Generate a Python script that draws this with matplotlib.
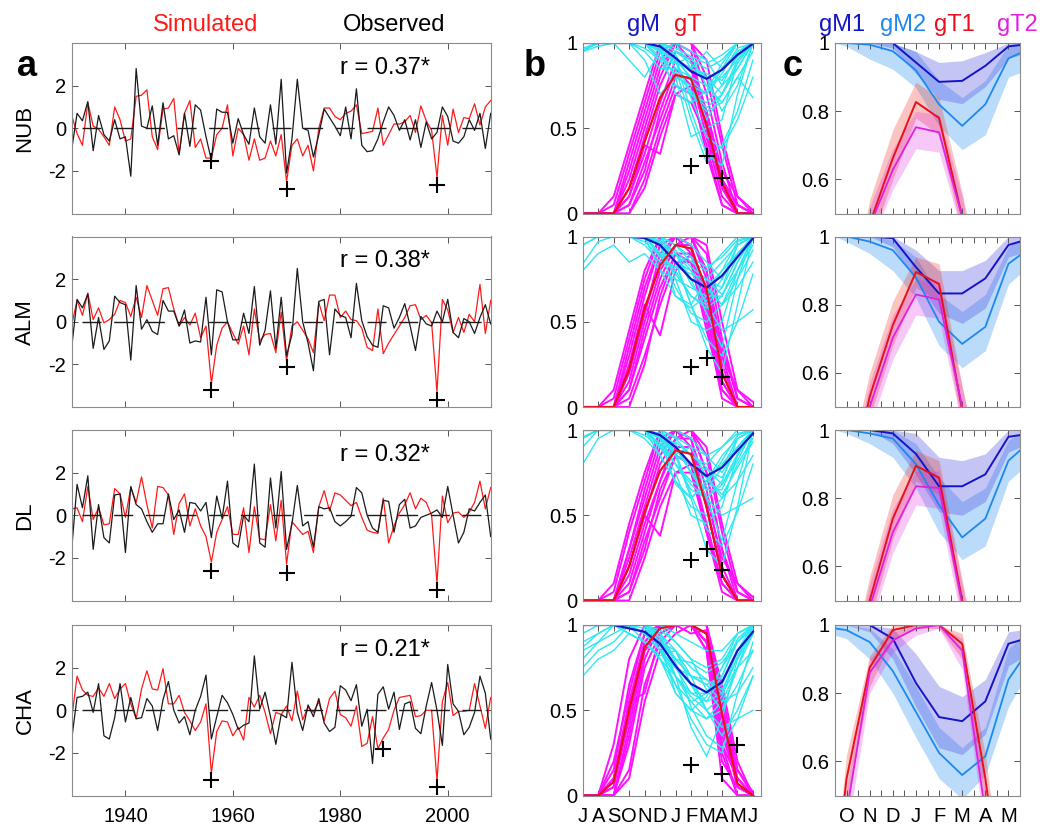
import numpy as np
import matplotlib.pyplot as plt

plt.rcParams['font.family'] = ['Liberation Sans', 'DejaVu Sans']
plt.rcParams['axes.unicode_minus'] = False

# ---------------- column a: yearly anomalies ----------------
years = np.arange(1930, 2009)
stations = ['NUB', 'ALM', 'DL', 'CHA']
r_labels = ['r = 0.37*', 'r = 0.38*', 'r = 0.32*', 'r = 0.21*']

sim_NUB = [0.6, -0.25, -0.8, 1.2, 0.1, -0.05, -0.4, -0.8, 1.0, 0.4,
           -0.6, -0.5, 1.5, 1.55, 1.8, -0.4, -1.0, 0.9, 0.95, 1.4,
           -1.2, 0.7, 1.3, -0.9, -0.5, -1.4, -1.4, -0.3, 0.0, 1.1,
           -1.3, 0.0, -0.3, -1.5, -0.5, -1.5, -1.4, -0.6, -1.3, -0.3,
           -2.5, -0.8, -0.5, -1.3, -0.8, -2.0, 0.0, 0.95, 0.95, 0.55,
           0.4, 0.7, 0.8, 1.1, -0.25, -0.2, -0.15, 0.95, -0.8, -0.3,
           0.2, 0.2, 0.3, 0.6, -0.2, 1.05, 0.35, -0.1, -2.3, 0.6,
           -0.8, 0.9, -0.2, 0.5, 0.45, 1.15, 0.15, 1.0, 1.3]
obs_NUB = [-1.0, 0.7, 0.35, 1.25, -1.05, 0.6, -0.3, -0.6, 0.4, -0.5,
           -0.4, -2.25, 2.8, 0.1, 0.0, 1.05, -0.8, 1.2, -0.5, -0.35,
           -1.25, 0.7, -0.85, 1.1, 0.85, -0.4, -1.5, 0.9, 0.75, 0.75,
           -0.7, 0.45, -0.3, -0.75, 0.95, -0.4, -0.7, 1.1, -0.75, 2.3,
           -2.1, -0.5, 2.3, 0.0, -0.1, -1.35, -0.3, 0.9, 0.5, 0.1,
           -0.35, 1.0, -0.5, 1.85, -0.8, -1.1, -1.05, -0.5, 0.3, 1.0,
           0.6, -0.1, 0.4, -0.55, 0.4, -0.9, 0.3, -0.5, -0.2, 1.0,
           0.55, -0.6, -0.7, -0.4, 0.4, -0.1, 0.7, -0.95, 0.7]

sim_ALM = [-0.15, 1.0, 0.3, 1.35, 0.1, 0.65, -0.05, 0.1, 0.35, 1.0,
           0.9, 0.25, 1.15, 0.2, 1.7, 1.0, 0.3, 1.55, 1.6, 0.6,
           -0.2, 0.2, -0.15, 0.4, -0.75, -0.2, -2.9, -1.1, -0.3, 0.0,
           -0.55, -1.05, -0.2, -1.55, 0.6, -0.9, -0.6, -0.55, -1.45, 0.45,
           -1.85, -0.2, 0.0, -0.4, -0.8, -1.45, 0.9, 0.05, 1.25, 1.25,
           0.2, 0.5, 0.1, 0.05, -0.3, -1.2, -1.35, 0.6, -1.5, -1.0,
           -0.6, -0.2, 0.2, 0.75, 0.8, 0.1, 0.3, -0.05, -3.3, 1.05,
           0.55, -0.5, 0.2, -0.5, 0.35, 0.0, 1.75, -0.55, 1.0]
obs_ALM = [-1.2, 1.05, 0.65, 1.3, -1.25, 0.2, -1.3, -0.9, 1.2, 0.9,
           0.8, -1.8, 1.7, -0.35, 0.1, -0.45, -0.6, 1.0, 0.5, 0.5,
           -0.2, 0.55, -1.0, -0.9, -0.95, 1.15, -1.55, 1.5, 1.4, 0.0,
           -0.85, -0.85, 0.4, -0.55, 1.65, -1.1, -0.4, 1.45, -1.25, 1.15,
           -1.6, -0.6, 2.5, 0.0, -1.0, -2.3, 0.95, 1.05, -1.55, 0.6,
           0.3, 0.2, -0.75, 1.8, 0.05, -0.7, -1.1, -1.2, 0.75, 0.65,
           -0.3, 0.2, 0.85, -0.2, -1.35, 0.25, -0.1, -0.2, 0.5, 0.0,
           1.05, -0.5, -0.75, 0.15, 0.0, -0.55, 0.2, 0.8, -0.1]

sim_DL = [0.3, 0.35, -0.3, 1.35, -0.2, 0.35, -0.45, -0.4, 1.25, 1.0,
          -0.1, 1.3, 0.6, 1.8, 0.5, -0.6, 1.35, 1.3, 0.95, -0.9,
          0.55, 1.0, -0.5, 0.3, -0.5, -1.0, -2.2, -0.8, -0.2, 0.4,
          -0.9, -0.9, 0.35, -1.75, 0.4, -1.1, -1.15, 0.5, -1.2, 0.7,
          -2.3, -0.3, -0.6, -0.9, -0.75, -1.75, 0.4, 1.15, 0.2, 1.05,
          0.95, 0.7, 0.45, 0.6, -0.1, -0.7, -0.8, -0.85, 0.8, -1.3,
          -0.5, 0.1, 0.5, 1.05, 0.3, 0.8, 0.6, 0.0, -3.2, 0.9,
          -0.35, 0.1, 0.15, -0.1, 0.15, 0.6, 1.6, 0.3, 1.3]
obs_DL = [-1.6, 1.45, 0.35, 1.85, -1.6, 0.5, -1.05, -1.3, 0.95, 1.0,
          -1.75, 1.35, 0.5, 0.3, -0.3, -0.8, -0.4, -0.4, 1.0, -0.2,
          0.25, -0.8, 0.6, 0.55, 0.2, 0.6, -1.05, 0.9, -0.15, 1.6,
          -1.3, -1.5, 0.0, -0.3, 2.4, -1.3, -1.5, 1.75, -0.6, 2.05,
          -1.6, -0.4, 1.4, -0.5, -0.3, -1.5, 0.4, 0.3, 0.35, -0.3,
          -0.5, -0.3, -0.05, 1.3, 1.05, 0.0, -0.6, -0.8, 0.7, 0.65,
          -0.8, 0.5, 0.75, -0.6, -0.5, -0.1, 0.0, 0.1, 0.25, -0.1,
          1.35, 0.0, -1.3, -0.8, 0.3, 0.2, 0.6, 0.95, -1.0]

sim_CHA = [-0.4, 1.6, 0.95, 0.7, 0.65, 1.05, 0.65, 1.25, 0.55, 1.0,
           1.25, 0.3, -0.4, 1.0, 1.85, 1.0, 0.95, 1.95, 0.3, 0.3,
           0.7, -0.1, -0.5, -0.95, -0.55, 0.3, -2.95, -1.0, -0.5, -0.55,
           -1.2, -0.8, -1.4, 0.6, 0.15, 0.7, -0.1, -1.1, -0.1, -0.2,
           0.2, -0.5, 0.9, -0.45, 0.15, -0.1, 0.4, -0.5, 0.55, 0.9,
           -0.2, -0.35, -0.75, 0.2, -1.7, -1.55, -0.3, -1.8, -1.3, -0.9,
           0.0, 0.6, 0.65, 0.7, -0.3, -0.25, 0.0, 0.0, -3.3, 0.4,
           1.3, -0.25, -0.05, -0.05, 0.0, 1.25, 0.2, -0.85, 0.6]
obs_CHA = [-1.35, 0.6, 0.65, 0.85, -0.1, 1.25, -1.2, -1.35, -0.35, 1.25,
           -0.55, 0.6, -0.4, -0.35, 0.55, 0.2, -0.95, 0.5, 1.35, 0.0,
           -0.6, -0.3, -1.15, 0.0, 0.65, 1.65, -1.35, -0.3, 0.7, 0.35,
           -0.2, -0.9, -0.7, -0.6, 2.55, 0.05, 0.85, -0.3, -1.6, -0.2,
           -0.35, 2.25, -0.1, -0.95, 0.25, -0.3, 0.55, -0.6, -1.0, -0.8,
           1.15, 0.95, 0.45, 1.2, -0.75, 0.05, -2.5, 0.75, 1.1, 0.05,
           0.85, -0.9, 0.3, 0.4, -0.85, -1.1, 0.2, 1.3, 0.0, -1.65,
           2.15, 0.3, -0.05, -1.15, -0.8, -0.1, 1.6, 0.8, -1.35]

simulated = [sim_NUB, sim_ALM, sim_DL, sim_CHA]
observed = [obs_NUB, obs_ALM, obs_DL, obs_CHA]

# marked dry years
dry_years = [[1956, 1970, 1998], [1956, 1970, 1998],
             [1956, 1970, 1998], [1956, 1988, 1998]]
dry_vals = [[-1.55, -2.85, -2.65], [-3.2, -2.1, -3.65],
            [-2.6, -2.7, -3.5], [-3.25, -1.8, -3.6]]

# ---------------- column b: monthly members ----------------
months_b = ['J', 'A', 'S', 'O', 'N', 'D', 'J', 'F', 'M', 'A', 'M', 'J']

gM_mean = [[1, 1, 1, 1, 1, 0.98, 0.912, 0.833, 0.79, 0.843, 0.931, 0.996],
           [1, 1, 1, 1, 0.99, 0.95, 0.85, 0.75, 0.7, 0.77, 0.88, 0.99],
           [1, 1, 1, 1, 1, 0.97, 0.9, 0.8, 0.73, 0.78, 0.88, 0.98],
           [1, 1, 1, 0.98, 0.96, 0.89, 0.76, 0.655, 0.605, 0.665, 0.85, 0.96]]
gT_mean = [[0, 0, 0, 0.147, 0.42, 0.68, 0.814, 0.79, 0.52, 0.18, 0, 0],
           [0, 0, 0, 0.22, 0.58, 0.83, 0.95, 0.93, 0.69, 0.2, 0, 0],
           [0, 0, 0, 0.2, 0.52, 0.76, 0.88, 0.86, 0.55, 0.15, 0, 0],
           [0, 0, 0.08, 0.5, 0.87, 0.98, 1, 1, 0.95, 0.48, 0.07, 0]]

gM_members_NUB = [
    [1, 1, 1, 1, 1, 1, 0.9, 0.6, 0.35, 0.28, 0.7, 1],
    [0.95, 1, 1, 1, 1, 0.95, 0.8, 0.45, 0.5, 0.55, 0.9, 1],
    [1, 1, 1, 1, 1, 0.9, 0.75, 0.7, 0.65, 0.75, 0.95, 1],
    [1, 1, 1, 1, 0.95, 0.85, 0.85, 0.8, 0.75, 0.8, 0.9, 1],
    [1, 1, 1, 1, 1, 1, 0.95, 0.9, 0.85, 0.9, 1, 1],
    [1, 1, 1, 1, 1, 1, 1, 0.95, 0.9, 0.75, 0.85, 1],
    [0.97, 1, 1, 0.9, 0.8, 0.95, 0.9, 0.7, 0.6, 0.65, 0.8, 0.68],
    [1, 1, 1, 1, 1, 1, 0.9, 0.8, 0.55, 0.7, 0.9, 1],
    [1, 1, 1, 1, 1, 0.95, 1, 0.85, 0.95, 0.85, 0.95, 1],
    [1, 1, 1, 1, 1, 1, 0.85, 0.55, 0.3, 0.4, 0.6, 0.9],
    [0.95, 0.98, 1, 1, 1, 0.95, 0.9, 0.85, 0.8, 0.6, 0.75, 1],
    [1, 1, 1, 1, 0.9, 0.7, 0.8, 0.75, 0.7, 0.85, 1, 1],
    [1, 1, 1, 1, 1, 0.92, 0.82, 0.72, 0.62, 0.7, 0.88, 1],
    [1, 1, 1, 1, 0.97, 0.9, 0.88, 0.85, 0.82, 0.78, 0.92, 1],
    [1, 1, 1, 1, 1, 0.98, 0.93, 0.78, 0.7, 0.82, 0.97, 1],
    [1, 1, 1, 1, 1, 0.96, 0.7, 0.65, 0.72, 0.88, 1, 1],
    [1, 1, 1, 1, 1, 1, 0.97, 0.92, 0.75, 0.65, 0.8, 0.95],
    [1, 1, 1, 1, 1, 0.9, 0.95, 0.88, 0.8, 0.7, 0.85, 1],
    [1, 1, 1, 1, 1, 1, 0.9, 0.68, 0.45, 0.38, 0.55, 0.8],
    [0.96, 1, 1, 1, 1, 0.97, 0.88, 0.92, 0.88, 0.93, 1, 1]]
gT_members_NUB = [
    [0, 0, 0.05, 0.35, 0.65, 0.95, 1, 1, 0.8, 0.4, 0.05, 0],
    [0, 0, 0, 0.25, 0.55, 0.85, 1, 1, 0.7, 0.3, 0, 0],
    [0, 0, 0, 0.15, 0.45, 0.75, 0.95, 0.9, 0.6, 0.2, 0, 0],
    [0, 0, 0, 0.1, 0.35, 0.65, 0.9, 0.85, 0.5, 0.15, 0, 0],
    [0, 0, 0, 0.05, 0.3, 0.55, 0.8, 0.8, 0.45, 0.1, 0, 0],
    [0, 0, 0, 0, 0.2, 0.5, 0.75, 0.7, 0.4, 0.05, 0, 0],
    [0, 0, 0, 0.2, 0.5, 0.8, 1, 0.95, 0.55, 0.2, 0.05, 0],
    [0, 0, 0, 0.1, 0.4, 0.35, 0.7, 0.75, 0.6, 0.25, 0.1, 0],
    [0, 0, 0.1, 0.4, 0.7, 1, 1, 1, 0.9, 0.45, 0.1, 0.02],
    [0, 0, 0, 0.05, 0.25, 0.6, 0.85, 0.75, 0.35, 0.05, 0, 0],
    [0, 0, 0, 0.3, 0.6, 0.9, 1, 0.9, 0.5, 0.15, 0, 0],
    [0, 0, 0, 0, 0.15, 0.45, 0.7, 0.65, 0.45, 0.2, 0.05, 0]]

gM_members_ALM = [
    [0.84, 0.97, 1, 1, 1, 1, 0.85, 0.6, 0.35, 0.2, 0.6, 1],
    [0.8, 0.9, 0.95, 0.85, 0.9, 0.8, 0.75, 0.5, 0.45, 0.5, 0.8, 1],
    [1, 1, 1, 1, 1, 0.9, 0.8, 0.65, 0.6, 0.7, 0.95, 1],
    [1, 1, 1, 1, 1, 0.95, 0.85, 0.75, 0.7, 0.8, 0.9, 1],
    [1, 1, 1, 1, 1, 1, 0.95, 0.85, 0.8, 0.9, 1, 1],
    [1, 1, 1, 1, 1, 0.9, 0.7, 0.55, 0.5, 0.6, 0.8, 0.95],
    [1, 1, 1, 1, 0.95, 0.85, 0.9, 0.8, 0.6, 0.45, 0.5, 0.57],
    [1, 1, 1, 1, 1, 1, 0.9, 0.75, 0.55, 0.35, 0.75, 1],
    [1, 1, 1, 1, 1, 1, 1, 0.95, 0.85, 0.75, 0.9, 1],
    [0.95, 1, 1, 1, 1, 0.95, 0.75, 0.7, 0.65, 0.65, 0.85, 1],
    [1, 1, 1, 1, 1, 0.8, 0.65, 0.6, 0.75, 0.85, 0.95, 1],
    [1, 1, 1, 1, 1, 0.95, 0.85, 0.8, 0.7, 0.6, 0.7, 0.85],
    [1, 1, 1, 1, 1, 0.9, 0.78, 0.65, 0.58, 0.65, 0.85, 1],
    [1, 1, 1, 1, 0.97, 0.88, 0.82, 0.78, 0.75, 0.7, 0.88, 1],
    [1, 1, 1, 1, 1, 0.97, 0.9, 0.72, 0.62, 0.75, 0.95, 1],
    [1, 1, 1, 1, 1, 0.95, 0.65, 0.58, 0.65, 0.8, 0.97, 1],
    [1, 1, 1, 1, 1, 1, 0.95, 0.88, 0.7, 0.6, 0.75, 0.92],
    [1, 1, 1, 1, 1, 0.88, 0.92, 0.82, 0.75, 0.66, 0.8, 1],
    [1, 1, 1, 1, 1, 0.98, 0.85, 0.6, 0.4, 0.3, 0.5, 0.78],
    [0.95, 1, 1, 1, 1, 0.96, 0.85, 0.88, 0.82, 0.88, 0.98, 1]]
gT_members_ALM = [
    [0, 0, 0.05, 0.4, 0.75, 1, 1, 1, 0.9, 0.4, 0.05, 0],
    [0, 0, 0, 0.3, 0.65, 0.95, 1, 1, 0.8, 0.3, 0, 0],
    [0, 0, 0, 0.2, 0.55, 0.85, 1, 1, 0.75, 0.25, 0, 0],
    [0, 0, 0, 0.15, 0.5, 0.8, 0.95, 0.95, 0.65, 0.15, 0, 0],
    [0, 0, 0, 0.1, 0.4, 0.7, 0.9, 0.9, 0.55, 0.1, 0, 0],
    [0, 0, 0, 0.05, 0.3, 0.6, 0.85, 0.85, 0.5, 0.05, 0, 0],
    [0, 0, 0, 0.25, 0.6, 0.42, 0.8, 0.9, 0.7, 0.3, 0.1, 0],
    [0, 0, 0.1, 0.45, 0.8, 1, 1, 1, 0.95, 0.5, 0.1, 0.03],
    [0, 0, 0, 0.2, 0.55, 0.9, 1, 0.95, 0.6, 0.2, 0, 0],
    [0, 0, 0, 0.1, 0.45, 0.75, 0.95, 1, 0.8, 0.35, 0.05, 0],
    [0, 0, 0, 0, 0.25, 0.65, 0.9, 0.85, 0.45, 0.1, 0, 0],
    [0, 0, 0, 0.35, 0.7, 0.95, 1, 0.9, 0.6, 0.15, 0, 0]]

gM_members_DL = [
    [0.8, 0.95, 1, 1, 1, 1, 0.85, 0.6, 0.3, 0.2, 0.55, 1],
    [1, 1, 1, 1, 1, 0.9, 0.75, 0.5, 0.45, 0.55, 0.85, 1],
    [1, 1, 1, 1, 1, 0.9, 0.8, 0.65, 0.6, 0.7, 0.95, 1],
    [1, 1, 1, 1, 1, 0.95, 0.9, 0.75, 0.7, 0.8, 0.9, 1],
    [1, 1, 1, 1, 1, 1, 0.95, 0.85, 0.8, 0.9, 1, 1],
    [1, 1, 1, 1, 0.95, 0.85, 0.7, 0.55, 0.5, 0.6, 0.8, 0.95],
    [0.9, 1, 1, 1, 1, 0.9, 0.9, 0.8, 0.6, 0.5, 0.55, 0.6],
    [1, 1, 1, 1, 1, 1, 0.9, 0.75, 0.6, 0.35, 0.7, 1],
    [1, 1, 1, 1, 1, 1, 1, 0.95, 0.85, 0.75, 0.9, 1],
    [1, 1, 1, 1, 1, 0.95, 0.8, 0.7, 0.65, 0.65, 0.85, 1],
    [1, 1, 1, 1, 1, 0.85, 0.7, 0.6, 0.7, 0.85, 0.95, 1],
    [0.95, 1, 1, 1, 1, 0.95, 0.85, 0.8, 0.72, 0.6, 0.7, 0.85],
    [1, 1, 1, 1, 1, 0.92, 0.8, 0.68, 0.6, 0.68, 0.86, 1],
    [1, 1, 1, 1, 0.97, 0.9, 0.85, 0.8, 0.77, 0.72, 0.9, 1],
    [1, 1, 1, 1, 1, 0.97, 0.92, 0.75, 0.65, 0.78, 0.95, 1],
    [1, 1, 1, 1, 1, 0.95, 0.68, 0.6, 0.68, 0.82, 0.97, 1],
    [1, 1, 1, 1, 1, 1, 0.96, 0.9, 0.72, 0.62, 0.78, 0.93],
    [1, 1, 1, 1, 1, 0.9, 0.93, 0.85, 0.78, 0.68, 0.82, 1],
    [1, 1, 1, 1, 1, 0.98, 0.87, 0.62, 0.42, 0.32, 0.52, 0.8],
    [0.96, 1, 1, 1, 1, 0.96, 0.86, 0.9, 0.85, 0.9, 0.98, 1]]
gT_members_DL = [
    [0, 0, 0.05, 0.4, 0.7, 1, 1, 1, 0.85, 0.4, 0.05, 0],
    [0, 0, 0, 0.3, 0.6, 0.9, 1, 1, 0.75, 0.3, 0, 0],
    [0, 0, 0, 0.2, 0.5, 0.8, 0.95, 0.95, 0.65, 0.2, 0, 0],
    [0, 0, 0, 0.15, 0.45, 0.7, 0.9, 0.9, 0.55, 0.15, 0, 0],
    [0, 0, 0, 0.05, 0.35, 0.6, 0.85, 0.8, 0.45, 0.1, 0, 0],
    [0, 0, 0, 0, 0.25, 0.55, 0.75, 0.75, 0.4, 0.05, 0, 0],
    [0, 0, 0, 0.2, 0.5, 0.38, 0.75, 0.8, 0.6, 0.25, 0.1, 0],
    [0, 0, 0.1, 0.45, 0.75, 1, 1, 1, 0.9, 0.45, 0.1, 0.02],
    [0, 0, 0, 0.25, 0.55, 0.85, 1, 0.95, 0.55, 0.15, 0, 0],
    [0, 0, 0, 0.1, 0.4, 0.7, 0.95, 1, 0.75, 0.3, 0.05, 0],
    [0, 0, 0, 0.05, 0.3, 0.65, 0.85, 0.8, 0.4, 0.1, 0, 0],
    [0, 0, 0, 0.3, 0.65, 0.95, 1, 0.9, 0.55, 0.15, 0, 0]]

gM_members_CHA = [
    [0.7, 0.8, 0.85, 0.95, 0.9, 0.8, 0.65, 0.45, 0.3, 0.25, 0.6, 0.9],
    [0.87, 0.95, 1, 1, 0.95, 0.85, 0.7, 0.55, 0.45, 0.5, 0.75, 1],
    [1, 1, 1, 1, 1, 0.9, 0.75, 0.6, 0.55, 0.6, 0.85, 1],
    [1, 1, 1, 1, 1, 0.95, 0.8, 0.7, 0.65, 0.7, 0.9, 1],
    [1, 1, 1, 1, 1, 1, 0.9, 0.8, 0.75, 0.8, 0.95, 1],
    [1, 1, 1, 1, 0.9, 0.8, 0.6, 0.5, 0.45, 0.55, 0.75, 0.85],
    [0.85, 0.9, 0.95, 1, 1, 0.9, 0.85, 0.7, 0.5, 0.4, 0.45, 0.5],
    [1, 1, 1, 1, 1, 0.95, 0.7, 0.4, 0.23, 0.45, 0.8, 1],
    [1, 1, 1, 1, 1, 1, 0.95, 0.9, 0.85, 0.85, 0.95, 1],
    [0.95, 1, 1, 0.95, 0.9, 0.8, 0.7, 0.6, 0.6, 0.65, 0.85, 0.95],
    [1, 1, 1, 1, 1, 0.85, 0.65, 0.55, 0.6, 0.75, 0.9, 1],
    [0.75, 0.85, 0.9, 1, 0.95, 0.9, 0.8, 0.7, 0.65, 0.55, 0.6, 0.75],
    [1, 1, 1, 1, 0.95, 0.85, 0.75, 0.65, 0.5, 0.35, 0.5, 0.7],
    [1, 1, 1, 1, 0.98, 0.88, 0.7, 0.58, 0.5, 0.58, 0.82, 0.98],
    [1, 1, 1, 1, 0.95, 0.85, 0.75, 0.7, 0.68, 0.62, 0.8, 0.95],
    [1, 1, 1, 1, 1, 0.95, 0.85, 0.65, 0.55, 0.7, 0.92, 1],
    [0.9, 0.95, 1, 1, 1, 0.9, 0.6, 0.5, 0.58, 0.75, 0.95, 1],
    [1, 1, 1, 1, 1, 0.97, 0.9, 0.8, 0.62, 0.5, 0.65, 0.85],
    [1, 1, 1, 0.95, 0.9, 0.82, 0.85, 0.75, 0.68, 0.6, 0.75, 0.95],
    [1, 1, 1, 1, 1, 0.93, 0.78, 0.52, 0.35, 0.28, 0.45, 0.7],
    [0.8, 0.9, 1, 1, 1, 0.92, 0.8, 0.78, 0.72, 0.78, 0.9, 0.98]]
gT_members_CHA = [
    [0, 0, 0.3, 0.8, 1, 1, 1, 1, 1, 0.65, 0.2, 0],
    [0, 0, 0.15, 0.65, 0.95, 1, 1, 1, 1, 0.55, 0.1, 0],
    [0, 0, 0.05, 0.5, 0.9, 1, 1, 1, 0.95, 0.45, 0.05, 0],
    [0, 0, 0, 0.4, 0.85, 1, 1, 1, 0.95, 0.4, 0.05, 0],
    [0, 0, 0, 0.3, 0.75, 0.95, 1, 1, 0.9, 0.3, 0, 0],
    [0, 0, 0, 0.15, 0.65, 0.9, 1, 1, 0.9, 0.25, 0, 0],
    [0, 0, 0.1, 0.55, 0.6, 0.95, 1, 1, 0.85, 0.2, 0.05, 0],
    [0, 0, 0.2, 0.6, 0.95, 1, 1, 1, 1, 0.5, 0.15, 0.02],
    [0, 0, 0.05, 0.45, 0.85, 0.95, 1, 0.95, 0.97, 0.35, 0.1, 0],
    [0, 0, 0, 0.35, 0.8, 1, 1, 1, 0.9, 0.3, 0.1, 0],
    [0, 0, 0, 0.1, 0.55, 0.85, 0.95, 1, 0.85, 0.1, 0, 0],
    [0, 0, 0.1, 0.55, 0.9, 1, 1, 1, 1, 0.6, 0.15, 0]]

gM_members = [gM_members_NUB, gM_members_ALM, gM_members_DL, gM_members_CHA]
gT_members = [gT_members_NUB, gT_members_ALM, gT_members_DL, gT_members_CHA]

obs_month = [[7, 8, 9], [7, 8, 9], [7, 8, 9], [7, 9, 10]]
obs_frac = [[0.28, 0.335, 0.21], [0.235, 0.285, 0.175],
            [0.24, 0.30, 0.18], [0.18, 0.125, 0.295]]

# ---------------- column c: ensemble spread ----------------
months_c = ['O', 'N', 'D', 'J', 'F', 'M', 'A', 'M']
x_c = [-0.5, 0, 1, 2, 3, 4, 5, 6, 7, 7.5]

gM1 = [[1, 1, 1, 1, 0.943, 0.886, 0.889, 0.933, 0.99, 0.994],
       [1, 1, 1, 0.995, 0.91, 0.833, 0.833, 0.877, 0.975, 0.985],
       [1, 1, 1, 0.99, 0.93, 0.835, 0.835, 0.87, 0.98, 0.985],
       [1, 1, 1, 0.96, 0.83, 0.73, 0.718, 0.776, 0.945, 0.955]]
gM1_lo = [[1, 1, 1, 0.985, 0.91, 0.835, 0.822, 0.872, 0.955, 0.965],
          [1, 1, 1, 0.97, 0.87, 0.775, 0.745, 0.79, 0.94, 0.95],
          [1, 1, 1, 0.96, 0.87, 0.76, 0.75, 0.79, 0.935, 0.95],
          [1, 1, 0.98, 0.9, 0.76, 0.64, 0.62, 0.68, 0.88, 0.9]]
gM1_hi = [[1, 1, 1, 1, 0.975, 0.943, 0.948, 0.972, 1, 1],
          [1, 1, 1, 1, 0.96, 0.9, 0.9, 0.93, 1, 1],
          [1, 1, 1, 1, 0.99, 0.92, 0.91, 0.93, 1, 1],
          [1, 1, 1, 0.99, 0.915, 0.82, 0.79, 0.84, 0.98, 0.985]]
gM2 = [[1, 1, 0.995, 0.976, 0.92, 0.82, 0.757, 0.82, 0.955, 0.97],
       [1, 1, 0.985, 0.96, 0.88, 0.75, 0.685, 0.735, 0.92, 0.945],
       [1, 1, 0.99, 0.975, 0.9, 0.78, 0.685, 0.74, 0.91, 0.94],
       [0.99, 0.985, 0.95, 0.865, 0.745, 0.625, 0.56, 0.615, 0.84, 0.89]]
gM2_lo = [[1, 0.99, 0.953, 0.923, 0.869, 0.756, 0.687, 0.731, 0.9, 0.913],
          [1, 0.985, 0.95, 0.9, 0.82, 0.68, 0.615, 0.665, 0.86, 0.89],
          [1, 0.99, 0.96, 0.92, 0.83, 0.7, 0.62, 0.66, 0.85, 0.88],
          [0.97, 0.96, 0.9, 0.8, 0.67, 0.55, 0.49, 0.56, 0.76, 0.82]]
gM2_hi = [[1, 1, 1, 1, 0.975, 0.89, 0.84, 0.89, 0.995, 1],
          [1, 1, 1, 0.99, 0.94, 0.83, 0.78, 0.83, 0.97, 0.99],
          [1, 1, 1, 1, 0.96, 0.86, 0.79, 0.83, 0.97, 0.99],
          [1, 1, 0.99, 0.93, 0.82, 0.7, 0.64, 0.7, 0.93, 0.96]]
gT1 = [[0.02, 0.15, 0.47, 0.662, 0.827, 0.78, 0.49, 0.18, 0, 0],
       [0.05, 0.22, 0.53, 0.74, 0.896, 0.861, 0.49, 0.2, 0, 0],
       [0.05, 0.2, 0.5, 0.74, 0.895, 0.86, 0.5, 0.17, 0, 0],
       [0.25, 0.55, 0.875, 0.985, 1, 1, 0.945, 0.55, 0.07, 0]]
gT1_lo = [[0, 0.1, 0.41, 0.6, 0.78, 0.73, 0.44, 0.13, 0, 0],
          [0.02, 0.16, 0.47, 0.68, 0.85, 0.81, 0.44, 0.15, 0, 0],
          [0.02, 0.14, 0.44, 0.68, 0.85, 0.81, 0.45, 0.12, 0, 0],
          [0.2, 0.48, 0.82, 0.96, 0.99, 0.99, 0.9, 0.47, 0.04, 0]]
gT1_hi = [[0.05, 0.22, 0.54, 0.745, 0.885, 0.84, 0.56, 0.24, 0.02, 0],
          [0.08, 0.3, 0.6, 0.81, 0.94, 0.92, 0.56, 0.26, 0.02, 0],
          [0.08, 0.27, 0.57, 0.81, 0.94, 0.91, 0.56, 0.23, 0.02, 0],
          [0.3, 0.62, 0.91, 1, 1, 1, 0.975, 0.62, 0.1, 0.02]]
gT2 = [[0.01, 0.12, 0.464, 0.628, 0.753, 0.738, 0.49, 0.15, 0, 0],
       [0.03, 0.2, 0.5, 0.703, 0.83, 0.815, 0.5, 0.18, 0, 0],
       [0.03, 0.18, 0.48, 0.7, 0.835, 0.83, 0.49, 0.15, 0, 0],
       [0.15, 0.45, 0.86, 0.955, 0.99, 1, 0.925, 0.45, 0.05, 0]]
gT2_lo = [[0, 0.08, 0.41, 0.57, 0.69, 0.68, 0.44, 0.1, 0, 0],
          [0, 0.14, 0.44, 0.64, 0.77, 0.76, 0.44, 0.12, 0, 0],
          [0, 0.12, 0.42, 0.64, 0.78, 0.77, 0.43, 0.1, 0, 0],
          [0.1, 0.38, 0.8, 0.92, 0.97, 0.99, 0.87, 0.38, 0.02, 0]]
gT2_hi = [[0.03, 0.18, 0.52, 0.69, 0.8, 0.79, 0.55, 0.2, 0.01, 0],
          [0.06, 0.27, 0.57, 0.77, 0.875, 0.865, 0.56, 0.24, 0.02, 0],
          [0.06, 0.25, 0.55, 0.77, 0.88, 0.88, 0.55, 0.21, 0.02, 0],
          [0.2, 0.52, 0.9, 0.98, 1, 1, 0.96, 0.52, 0.08, 0.02]]

# colours
C_GM1 = '#1414c8'
C_GM2 = '#1e88f0'
C_GT1 = '#e8101c'
C_GT2 = '#e020e0'
C_CYAN = '#2ee8f0'
C_MAG = '#ff10ff'

W, H = 1043, 826
fig = plt.figure(figsize=(W / 100, H / 100), dpi=100)
row_top = [43, 236.5, 430, 625]
row_h = 170.5
cols = {'a': (71.7, 419), 'b': (582.7, 178), 'c': (835, 185)}


def add_ax(col, i):
    x0, w = cols[col]
    return fig.add_axes([x0 / W, (H - row_top[i] - row_h) / H, w / W, row_h / H])


def style(ax):
    for s in ax.spines.values():
        s.set_color('#8a8a8a')
        s.set_linewidth(0.8)
    ax.tick_params(which='both', direction='in', top=True, right=True,
                   length=4, width=0.7, color='#555555', labelsize=14.5)
    ax.tick_params(axis='x', pad=8)
    ax.tick_params(axis='y', pad=4)


for i in range(4):
    # --- a ---
    ax = add_ax('a', i)
    ax.plot(years, simulated[i], color='#ff1a1a', lw=0.9)
    ax.plot(years, observed[i], color='#1a1a1a', lw=0.9)
    ax.plot([1932, 2008], [0, 0], color='#1a1a1a', lw=1.0, dashes=(13.7, 9.1))
    ax.plot(dry_years[i], dry_vals[i], '+', color='k', ms=11, mew=1.5)
    ax.set_xlim(1930, 2008)
    ax.set_ylim(-4, 4)
    ax.set_yticks([-2, 0, 2])
    ax.set_xticks([1940, 1960, 1980, 2000])
    if i < 3:
        ax.set_xticklabels([])
    style(ax)
    ax.text(0.64, 0.855, r_labels[i], transform=ax.transAxes, fontsize=17,
            ha='left', va='center')
    fig.text(25 / W, 1 - (row_top[i] + row_h / 2) / H, stations[i],
             rotation=90, ha='center', va='center', fontsize=16)

    # --- b: magenta members first, cyan members over them ---
    ax = add_ax('b', i)
    mb = np.arange(12)
    for m in gT_members[i]:
        ax.plot(mb, m, color=C_MAG, lw=1.4)
    for m in gM_members[i]:
        ax.plot(mb, m, color=C_CYAN, lw=1.0)
    ax.plot(mb, gM_mean[i], color=C_GM1, lw=1.6)
    ax.plot(mb, gT_mean[i], color=C_GT1, lw=1.6)
    ax.plot(obs_month[i], obs_frac[i], '+', color='k', ms=11, mew=1.5)
    ax.set_xlim(0, 11.5)
    ax.set_ylim(0, 1)
    ax.set_xticks(mb)
    ax.set_yticks([0, 0.5, 1])
    ax.set_yticklabels(['0', '0.5', '1'])
    if i == 3:
        ax.set_xticklabels(months_b)
    else:
        ax.set_xticklabels([])
    style(ax)

    # --- c ---
    ax = add_ax('c', i)
    ax.fill_between(x_c, gM2_lo[i], gM2_hi[i], color=C_GM2, alpha=0.3, lw=0)
    ax.fill_between(x_c, gM1_lo[i], gM1_hi[i], color='#4040e0', alpha=0.3, lw=0)
    ax.fill_between(x_c, gT1_lo[i], gT1_hi[i], color='#f03020', alpha=0.28, lw=0)
    ax.fill_between(x_c, gT2_lo[i], gT2_hi[i], color=C_GT2, alpha=0.25, lw=0)
    ax.plot(x_c, gM1[i], color=C_GM1, lw=1.4)
    ax.plot(x_c, gM2[i], color=C_GM2, lw=1.3)
    ax.plot(x_c, gT1[i], color=C_GT1, lw=1.4)
    ax.plot(x_c, gT2[i], color=C_GT2, lw=1.3)
    ax.set_xlim(-0.5, 7.5)
    ax.set_ylim(0.5, 1)
    ax.set_xticks(range(8))
    ax.set_xticks(np.arange(-0.5, 7.6, 1.0), minor=True)
    ax.set_yticks([0.6, 0.8, 1])
    ax.set_yticklabels(['0.6', '0.8', '1'])
    if i == 3:
        ax.set_xticklabels(months_c)
    else:
        ax.set_xticklabels([])
    style(ax)

# column headers
hy = 1 - 25 / H
fig.text(206 / W, hy, 'Simulated', color='#ff1a1a', fontsize=17, ha='center', va='center')
fig.text(394 / W, hy, 'Observed', color='k', fontsize=17, ha='center', va='center')
fig.text(643 / W, hy, 'gM', color=C_GM1, fontsize=17, ha='center', va='center')
fig.text(687.5 / W, hy, 'gT', color=C_GT1, fontsize=17, ha='center', va='center')
fig.text(842 / W, hy, 'gM1', color=C_GM1, fontsize=17, ha='center', va='center')
fig.text(903 / W, hy, 'gM2', color=C_GM2, fontsize=17, ha='center', va='center')
fig.text(954 / W, hy, 'gT1', color=C_GT1, fontsize=17, ha='center', va='center')
fig.text(1017 / W, hy, 'gT2', color=C_GT2, fontsize=17, ha='center', va='center')

# panel letters
for letter, px in (('a', 27), ('b', 535), ('c', 793)):
    fig.text(px / W, 1 - 66 / H, letter, fontsize=26, fontweight='bold',
             ha='center', va='center')

fig.savefig('out.png', dpi=100)
